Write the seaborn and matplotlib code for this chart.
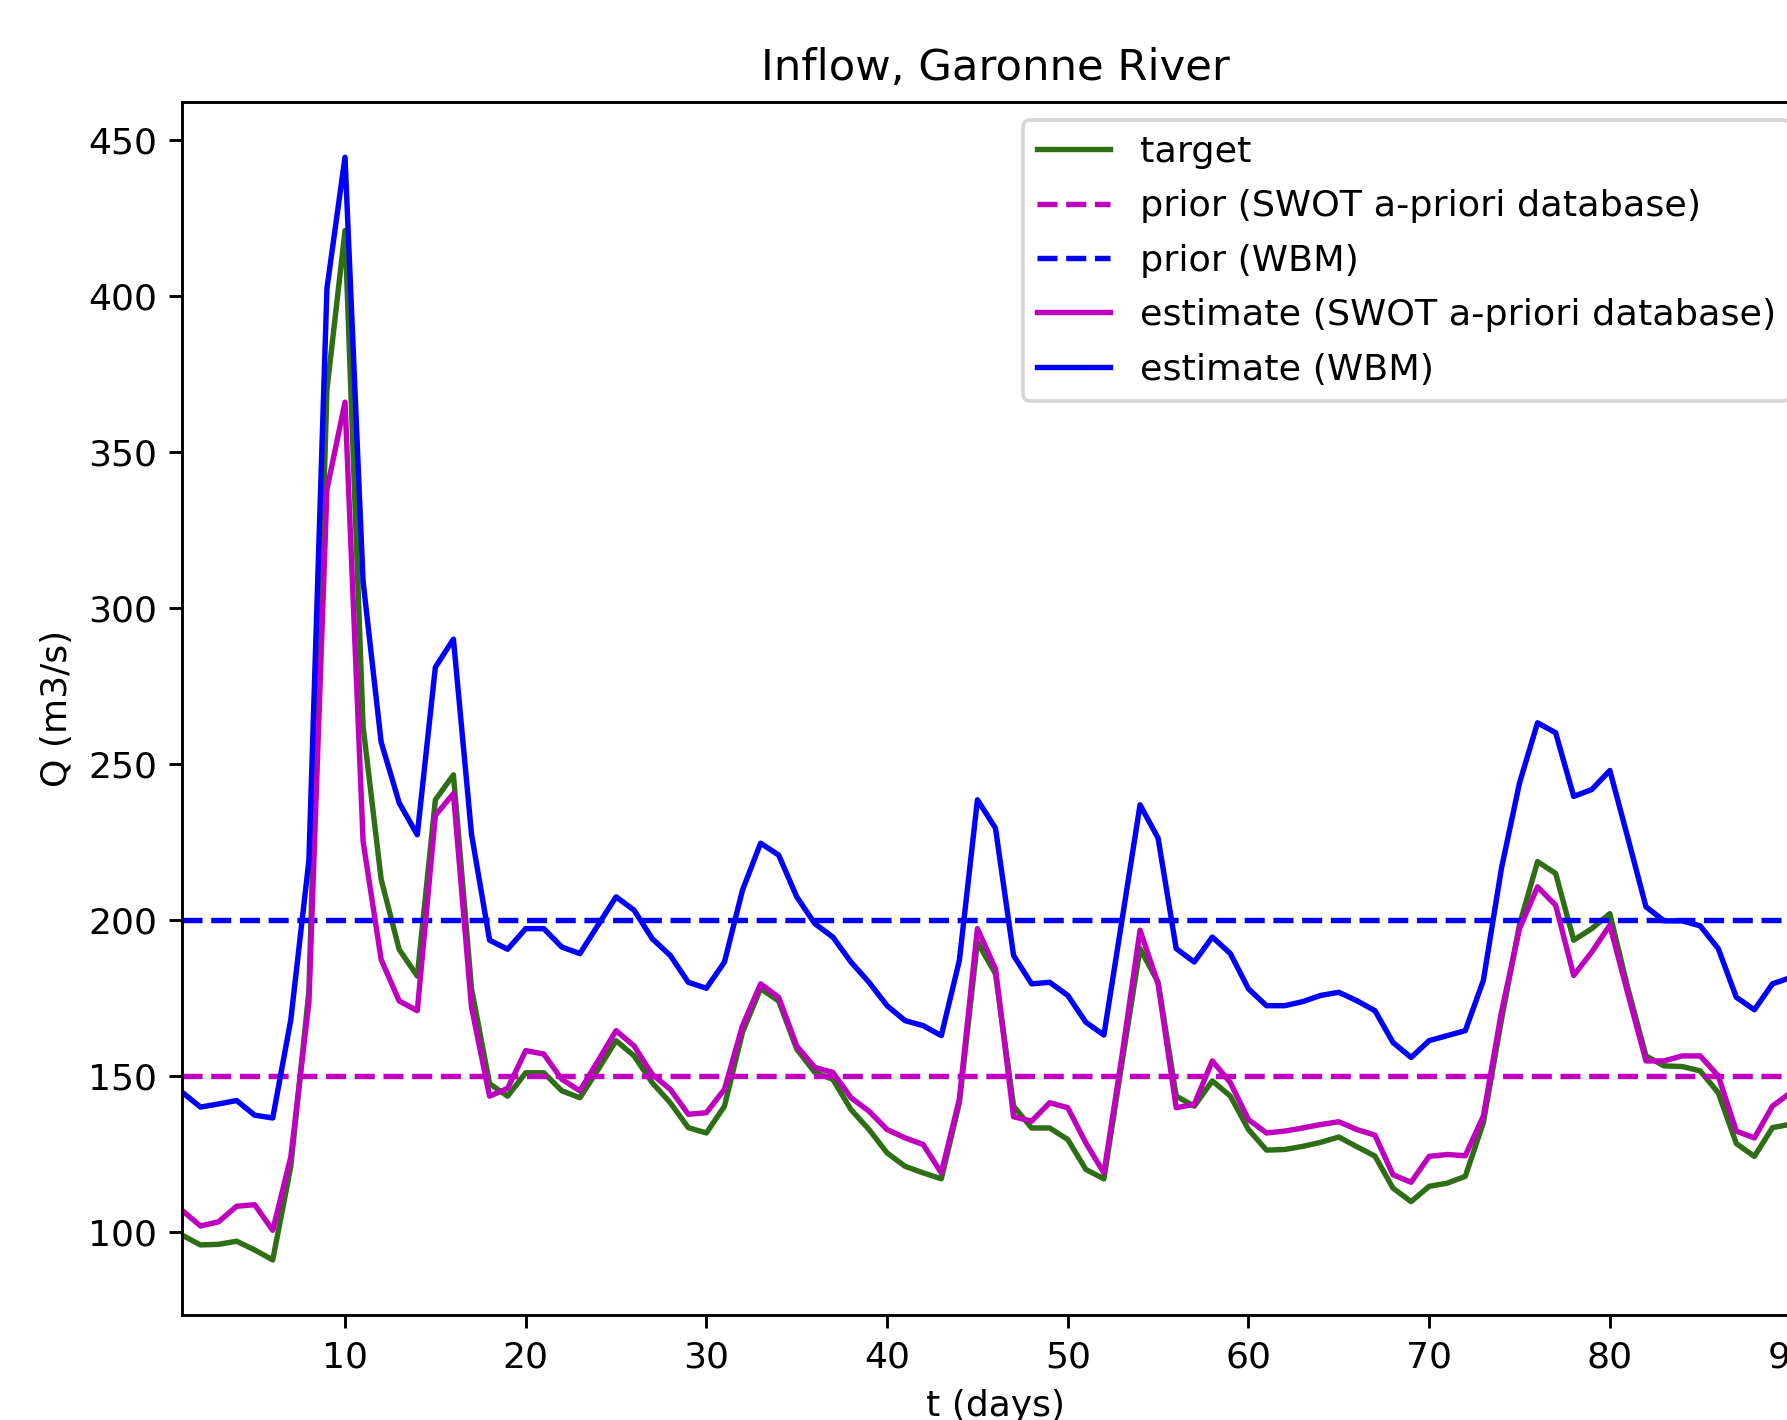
import numpy as np
import pandas as pd
import matplotlib
matplotlib.use("Agg")
import matplotlib.pyplot as plt
import seaborn as sns

# ---- data -------------------------------------------------------------
days = list(range(1, 92))

target = [98.9, 95.8, 96.0, 97.0, 94.2, 91.0, 121, 177, 370, 421,
          262, 213, 190.5, 182, 238.5, 246.5, 178, 147.5, 143.5, 151,
          151, 145.2, 143, 152, 161.3, 156.4, 147.8, 141.4, 133.4, 131.7,
          140.3, 164, 178, 174, 158.6, 151.1, 148.9, 139.2, 132.8, 125.3,
          121, 118.9, 117, 141.4, 192.9, 182.7, 140.3, 133.3, 133.3, 129.6,
          120, 117, 154.3, 190.8, 180, 143.5, 140.3, 148.4, 143.5, 132.8,
          126.2, 126.4, 127.4, 128.7, 130.4, 127.3, 124.3, 114, 109.7, 114.6,
          115.6, 117.8, 135, 168, 198.5, 218.7, 214.9, 193.5, 197.2, 202,
          178, 156.4, 153.2, 153, 151.6, 144.6, 128.3, 124.2, 133.4, 134.5,
          136]

estimate_swot = [106.8, 101.9, 103.2, 108.2, 108.7, 100.5, 124, 173.5, 338, 366,
                 225.2, 187.3, 174, 170.9, 233.5, 240.5, 172, 143.5, 146, 158.1,
                 157, 148.9, 145.2, 154.8, 164.5, 159.6, 150.5, 145.7, 137.7, 138.2,
                 145.7, 166.1, 179.5, 175.2, 159.6, 152.7, 151.1, 143, 138.7, 132.8,
                 130.1, 128, 118.9, 142.5, 197.2, 184.3, 136.9, 135.5, 141.4, 139.8,
                 128.5, 118.9, 156.4, 196.7, 179.5, 139.8, 140.9, 154.8, 147.8, 136,
                 131.7, 132.3, 133.3, 134.4, 135.3, 132.8, 131, 118.3, 115.9, 124.2,
                 124.8, 124.4, 137.1, 170.4, 197.2, 210.6, 204.7, 182.2, 189.7, 198.3,
                 176.3, 154.8, 154.8, 156.4, 156.4, 150, 132.3, 130.1, 140.3, 144.6,
                 147]

estimate_wbm = [144.7, 140, 141, 142.1, 137.4, 136.5, 168, 219, 402.5, 444.5,
                308.5, 257, 237.5, 227.3, 281, 290, 227.5, 193.5, 190.6, 197.2,
                197.2, 191.3, 189.2, 198.3, 207.4, 203.1, 194, 188.6, 180, 178.1,
                186.5, 209.6, 224.6, 220.8, 207.4, 198.8, 194.5, 186.5, 180, 172.5,
                167.7, 166.1, 162.9, 187, 238.5, 229.4, 188.6, 179.5, 180, 175.8,
                167.2, 163.1, 199.9, 236.9, 226.2, 190.8, 186.5, 194.5, 189.2, 177.9,
                172.5, 172.5, 173.8, 175.8, 176.8, 174.1, 170.9, 160.7, 155.9, 161.3,
                162.9, 164.5, 180.6, 216.5, 243.9, 263.2, 260, 239.6, 241.8, 247.9,
                226.2, 204.2, 199.7, 199.7, 198.1, 190.8, 175.2, 171.2, 179.5, 181.5,
                183]

prior_swot_value = 150
prior_wbm_value = 200

df = pd.DataFrame({
    "t": days,
    "target": target,
    "prior_swot": [prior_swot_value] * len(days),
    "prior_wbm": [prior_wbm_value] * len(days),
    "est_swot": estimate_swot,
    "est_wbm": estimate_wbm,
})

# ---- figure -----------------------------------------------------------
DPI = 260
fig = plt.figure(figsize=(1787 / DPI, 1420 / DPI), dpi=DPI)
ax = fig.add_axes([0.10207, 0.0739, 0.91002, 0.8542])

green = "#2e6e14"
sns.lineplot(data=df, x="t", y="target", ax=ax, color=green, label="target")
sns.lineplot(data=df, x="t", y="prior_swot", ax=ax, color="m", linestyle="--",
             label="prior (SWOT a-priori database)")
sns.lineplot(data=df, x="t", y="prior_wbm", ax=ax, color="b", linestyle="--",
             label="prior (WBM)")
sns.lineplot(data=df, x="t", y="est_swot", ax=ax, color="m",
             label="estimate (SWOT a-priori database)")
sns.lineplot(data=df, x="t", y="est_wbm", ax=ax, color="b",
             label="estimate (WBM)")

ax.set_xlim(min(days), max(days))
ax.set_title("Inflow, Garonne River")
ax.set_xlabel("t (days)")
ax.set_ylabel("Q (m3/s)")
ax.legend(loc="upper right", fontsize=10.1, labelspacing=0.56,
          borderaxespad=0.5)

fig.savefig("out.png", dpi=DPI)
